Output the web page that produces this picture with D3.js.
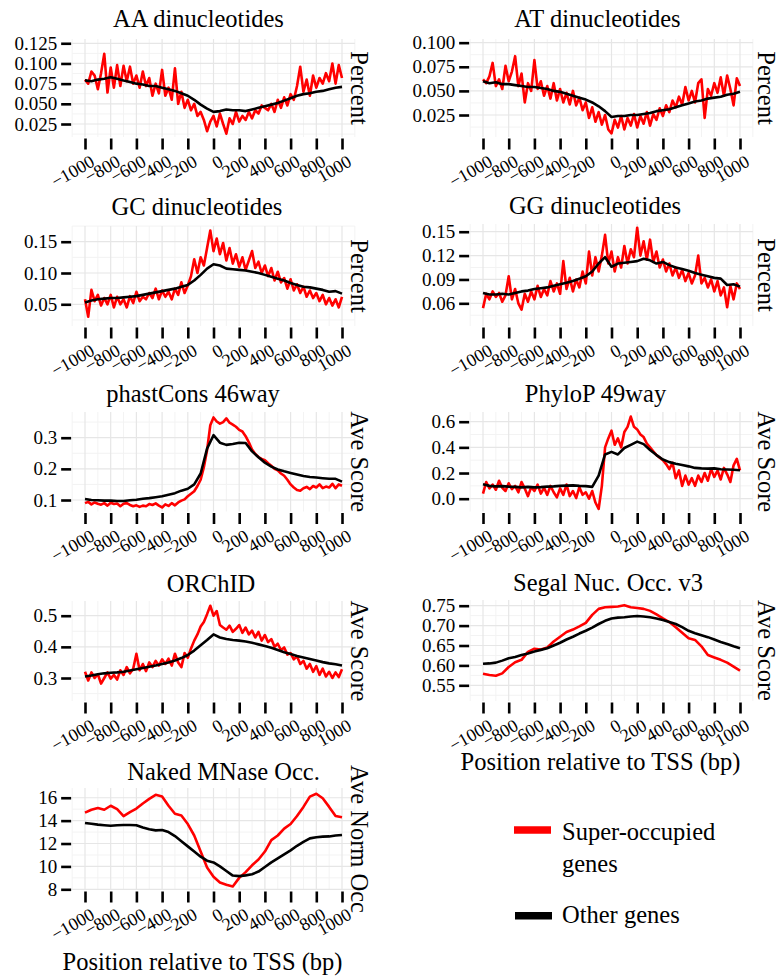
<!DOCTYPE html>
<html>
<head>
<meta charset="utf-8">
<script src="https://cdn.jsdelivr.net/npm/d3@7"></script>
<style>
  body { margin: 0; background: #fff; }
  svg text { font-family: "Liberation Serif", "Times New Roman", Times, "DejaVu Serif", serif; fill: #000; }
</style>
</head>
<body>
<div id="chart"></div>
<script>
// ---- data ----
const panelTitles = ["AA dinucleotides", "AT dinucleotides", "GC dinucleotides", "GG dinucleotides",
  "phastCons 46way", "PhyloP 49way", "ORChID", "Segal Nuc. Occ. v3", "Naked MNase Occ."];
const stripLabels = ["Percent", "Percent", "Percent", "Percent",
  "Ave Score", "Ave Score", "Ave Score", "Ave Score", "Ave Norm Occ"];
const xTicks = [-1000, -800, -600, -400, -200, 0, 200, 400, 600, 800, 1000];
const yTicks = [
  [0.025, 0.05, 0.075, 0.1, 0.125],
  [0.025, 0.05, 0.075, 0.1],
  [0.05, 0.1, 0.15],
  [0.06, 0.09, 0.12, 0.15],
  [0.1, 0.2, 0.3],
  [0.0, 0.2, 0.4, 0.6],
  [0.3, 0.4, 0.5],
  [0.55, 0.6, 0.65, 0.7, 0.75],
  [8, 10, 12, 14, 16]
];
const yFormats = [".3f", ".3f", ".2f", ".2f", ".1f", ".1f", ".1f", ".2f", "d"];
const yDomains = [
  [0.0089, 0.1303], [0.0022, 0.1038], [0.0153, 0.1751], [0.0315, 0.1597],
  [0.0631, 0.3825], [-0.0998, 0.6756], [0.2262, 0.5472], [0.5106, 0.7643], [7.94, 16.85]
];
const seriesNames = ["Super-occupied genes", "Other genes"];

// red series: 25 bp steps, black series: 50 bp steps (unless noted)
const aaSuper = [0.080, 0.075, 0.090, 0.085, 0.068, 0.088, 0.112, 0.064, 0.095, 0.070, 0.098, 0.072, 0.097, 0.078, 0.096, 0.075,
  0.085, 0.070, 0.090, 0.072, 0.082, 0.060, 0.075, 0.063, 0.092, 0.060, 0.070, 0.055, 0.094, 0.050, 0.065, 0.045,
  0.055, 0.042, 0.050, 0.035, 0.040, 0.030, 0.016, 0.028, 0.035, 0.022, 0.038, 0.025, 0.013, 0.032, 0.025, 0.040,
  0.028, 0.035, 0.030, 0.040, 0.032, 0.042, 0.038, 0.048, 0.045, 0.042, 0.050, 0.040, 0.055, 0.045, 0.058, 0.048,
  0.062, 0.055, 0.072, 0.096, 0.065, 0.080, 0.060, 0.085, 0.070, 0.082, 0.075, 0.088, 0.078, 0.100, 0.075, 0.098, 0.082];
const aaOther = [0.079, 0.078, 0.080, 0.081, 0.083, 0.081, 0.079, 0.077, 0.075, 0.074, 0.072, 0.072, 0.070, 0.068, 0.066, 0.063,
  0.060, 0.055, 0.049, 0.044, 0.040, 0.041, 0.043, 0.042, 0.042, 0.041, 0.043, 0.045, 0.047, 0.049, 0.051, 0.054,
  0.057, 0.060, 0.062, 0.063, 0.065, 0.066, 0.068, 0.070, 0.071];

const atSuper = [0.062, 0.058, 0.065, 0.079, 0.055, 0.062, 0.052, 0.076, 0.060, 0.070, 0.086, 0.055, 0.068, 0.038, 0.058, 0.050,
  0.082, 0.052, 0.060, 0.045, 0.055, 0.042, 0.058, 0.040, 0.052, 0.038, 0.048, 0.036, 0.050, 0.035, 0.043, 0.030,
  0.038, 0.022, 0.033, 0.018, 0.028, 0.015, 0.025, 0.010, 0.006, 0.020, 0.012, 0.024, 0.010, 0.022, 0.014, 0.026,
  0.012, 0.024, 0.016, 0.028, 0.014, 0.026, 0.020, 0.032, 0.024, 0.035, 0.028, 0.040, 0.033, 0.044, 0.036, 0.054,
  0.040, 0.050, 0.038, 0.058, 0.062, 0.022, 0.052, 0.045, 0.058, 0.048, 0.064, 0.045, 0.066, 0.052, 0.035, 0.063, 0.055];
const atOther = [0.060, 0.058, 0.059, 0.057, 0.057, 0.056, 0.055, 0.054, 0.054, 0.053, 0.052, 0.050, 0.049, 0.047, 0.045, 0.043,
  0.041, 0.038, 0.034, 0.029, 0.023, 0.024, 0.024, 0.025, 0.025, 0.026, 0.027, 0.029, 0.030, 0.031, 0.033, 0.035,
  0.037, 0.039, 0.040, 0.042, 0.043, 0.044, 0.046, 0.047, 0.049];

const gcSuper = [0.058, 0.030, 0.073, 0.055, 0.065, 0.048, 0.060, 0.050, 0.065, 0.045, 0.062, 0.050, 0.058, 0.045, 0.063, 0.052,
  0.070, 0.055, 0.062, 0.058, 0.068, 0.060, 0.075, 0.058, 0.072, 0.062, 0.070, 0.058, 0.075, 0.065, 0.085, 0.068,
  0.080, 0.095, 0.122, 0.100, 0.125, 0.112, 0.140, 0.168, 0.135, 0.155, 0.130, 0.148, 0.120, 0.140, 0.115, 0.130,
  0.110, 0.125, 0.105, 0.120, 0.135, 0.108, 0.118, 0.100, 0.112, 0.095, 0.108, 0.088, 0.102, 0.085, 0.092, 0.075,
  0.090, 0.072, 0.082, 0.068, 0.078, 0.062, 0.072, 0.060, 0.068, 0.055, 0.065, 0.050, 0.060, 0.048, 0.058, 0.045, 0.062];
const gcOther = [0.053, 0.056, 0.058, 0.059, 0.060, 0.060, 0.061, 0.062, 0.063, 0.065, 0.067, 0.069, 0.071, 0.073, 0.075, 0.078,
  0.081, 0.088, 0.097, 0.107, 0.114, 0.112, 0.107, 0.106, 0.105, 0.104, 0.102, 0.100, 0.097, 0.094, 0.091, 0.088,
  0.084, 0.081, 0.078, 0.077, 0.075, 0.073, 0.070, 0.071, 0.067];

const ggSuper = [0.054, 0.072, 0.065, 0.075, 0.068, 0.073, 0.062, 0.070, 0.094, 0.065, 0.078, 0.060, 0.052, 0.072, 0.062, 0.075,
  0.065, 0.082, 0.068, 0.078, 0.070, 0.088, 0.075, 0.085, 0.072, 0.113, 0.078, 0.092, 0.075, 0.090, 0.080, 0.100,
  0.085, 0.125, 0.095, 0.118, 0.100, 0.120, 0.146, 0.110, 0.125, 0.100, 0.118, 0.105, 0.132, 0.110, 0.128, 0.118,
  0.155, 0.120, 0.138, 0.115, 0.140, 0.112, 0.125, 0.105, 0.115, 0.100, 0.110, 0.095, 0.105, 0.092, 0.102, 0.088,
  0.098, 0.085, 0.095, 0.120, 0.085, 0.092, 0.080, 0.090, 0.075, 0.088, 0.070, 0.080, 0.055, 0.082, 0.065, 0.085, 0.078];
const ggOther = [0.073, 0.071, 0.071, 0.072, 0.071, 0.073, 0.075, 0.076, 0.078, 0.079, 0.080, 0.082, 0.084, 0.086, 0.088, 0.091,
  0.094, 0.100, 0.110, 0.118, 0.106, 0.110, 0.111, 0.112, 0.113, 0.116, 0.114, 0.110, 0.112, 0.108, 0.105, 0.103,
  0.101, 0.098, 0.096, 0.094, 0.092, 0.091, 0.083, 0.084, 0.081];

const phastSuper = [0.090, 0.094, 0.086, 0.092, 0.088, 0.085, 0.090, 0.082, 0.091, 0.087, 0.089, 0.080, 0.088, 0.090, 0.084, 0.080,
  0.083, 0.078, 0.082, 0.080, 0.087, 0.084, 0.089, 0.082, 0.076, 0.086, 0.081, 0.090, 0.083, 0.092, 0.098, 0.102,
  0.112, 0.120, 0.128, 0.145, 0.165, 0.205, 0.260, 0.340, 0.365, 0.352, 0.345, 0.350, 0.362, 0.348, 0.342, 0.335,
  0.325, 0.320, 0.305, 0.285, 0.262, 0.248, 0.238, 0.232, 0.228, 0.218, 0.210, 0.200, 0.195, 0.185, 0.178, 0.165,
  0.150, 0.140, 0.132, 0.130, 0.138, 0.142, 0.135, 0.145, 0.140, 0.150, 0.138, 0.143, 0.140, 0.152, 0.138, 0.150, 0.146];
const phastOther = [0.103, 0.100, 0.099, 0.098, 0.098, 0.097, 0.097, 0.099, 0.101, 0.104, 0.106, 0.109, 0.112, 0.117, 0.122, 0.130,
  0.136, 0.150, 0.185, 0.265, 0.308, 0.284, 0.277, 0.280, 0.284, 0.283, 0.256, 0.237, 0.220, 0.207, 0.198, 0.192,
  0.187, 0.182, 0.177, 0.174, 0.172, 0.170, 0.168, 0.168, 0.159];

const phyloSuper = [0.040, 0.130, 0.080, 0.110, 0.070, 0.140, 0.085, 0.060, 0.120, 0.075, 0.100, 0.050, 0.130, 0.080, 0.020, 0.090,
  0.060, 0.110, 0.040, 0.085, 0.030, 0.100, 0.050, 0.010, 0.080, 0.030, 0.110, 0.020, 0.060, 0.005, 0.090, 0.030,
  0.050, 0.000, 0.060, -0.030, -0.080, 0.100, 0.400, 0.470, 0.530, 0.420, 0.470, 0.400, 0.520, 0.560, 0.640, 0.560,
  0.540, 0.500, 0.480, 0.430, 0.400, 0.370, 0.340, 0.320, 0.300, 0.270, 0.230, 0.280, 0.160, 0.220, 0.100, 0.180,
  0.110, 0.160, 0.100, 0.180, 0.130, 0.200, 0.140, 0.230, 0.170, 0.220, 0.150, 0.240, 0.190, 0.130, 0.260, 0.310, 0.220];
const phyloOther = [0.112, 0.100, 0.096, 0.098, 0.094, 0.092, 0.088, 0.092, 0.088, 0.090, 0.094, 0.096, 0.100, 0.102, 0.104, 0.100,
  0.098, 0.092, 0.180, 0.345, 0.365, 0.345, 0.395, 0.420, 0.445, 0.425, 0.380, 0.340, 0.305, 0.285, 0.272, 0.262,
  0.252, 0.240, 0.236, 0.234, 0.236, 0.230, 0.228, 0.226, 0.222];

const orchidSuper = [0.320, 0.292, 0.318, 0.300, 0.312, 0.282, 0.300, 0.318, 0.298, 0.310, 0.295, 0.325, 0.310, 0.335, 0.315, 0.330,
  0.378, 0.325, 0.345, 0.322, 0.350, 0.335, 0.355, 0.340, 0.360, 0.345, 0.362, 0.340, 0.378, 0.350, 0.335, 0.380,
  0.365, 0.395, 0.420, 0.440, 0.465, 0.480, 0.505, 0.532, 0.500, 0.515, 0.470, 0.462, 0.455, 0.468, 0.448, 0.458,
  0.470, 0.445, 0.462, 0.440, 0.452, 0.430, 0.448, 0.420, 0.438, 0.415, 0.425, 0.400, 0.410, 0.390, 0.398, 0.375,
  0.380, 0.360, 0.370, 0.345, 0.355, 0.330, 0.345, 0.320, 0.338, 0.310, 0.330, 0.305, 0.320, 0.300, 0.318, 0.303, 0.328];
const orchidOther = [0.305, 0.308, 0.312, 0.315, 0.317, 0.318, 0.320, 0.324, 0.328, 0.332, 0.336, 0.340, 0.345, 0.350, 0.356, 0.364,
  0.374, 0.388, 0.405, 0.422, 0.440, 0.430, 0.425, 0.422, 0.420, 0.417, 0.413, 0.408, 0.403, 0.397, 0.390, 0.383,
  0.377, 0.371, 0.366, 0.361, 0.356, 0.351, 0.347, 0.344, 0.340];

const segalSuper = [0.579, 0.576, 0.574, 0.580, 0.596, 0.608, 0.614, 0.634, 0.642, 0.640, 0.645, 0.660, 0.672, 0.684, 0.690, 0.698,
  0.707, 0.727, 0.742, 0.746, 0.747, 0.748, 0.751, 0.746, 0.744, 0.742, 0.737, 0.728, 0.718, 0.709, 0.696, 0.682,
  0.668, 0.664, 0.648, 0.626, 0.620, 0.614, 0.607, 0.597, 0.587];
const segalOther = [0.604, 0.605, 0.607, 0.612, 0.618, 0.621, 0.626, 0.630, 0.635, 0.639, 0.643, 0.650, 0.657, 0.665, 0.672, 0.680,
  0.687, 0.695, 0.704, 0.712, 0.718, 0.720, 0.721, 0.723, 0.724, 0.723, 0.721, 0.718, 0.714, 0.709, 0.704, 0.696,
  0.687, 0.681, 0.676, 0.671, 0.665, 0.659, 0.654, 0.648, 0.643];

const mnaseSuper = [14.7, 14.95, 15.1, 14.95, 15.3, 15.0, 14.4, 14.75, 15.05, 15.5, 15.9, 16.25, 16.1, 15.3, 14.6, 14.45,
  13.7, 12.7, 11.3, 9.9, 9.1, 8.6, 8.4, 8.25, 9.0, 9.5, 10.1, 10.6, 11.3, 12.3, 12.7, 13.3,
  13.7, 14.4, 15.2, 16.1, 16.35, 15.95, 15.2, 14.4, 14.3];
const mnaseOther = [13.8, 13.72, 13.65, 13.6, 13.55, 13.6, 13.62, 13.62, 13.6, 13.4, 13.25, 13.15, 13.18, 13.0, 12.65, 12.2,
  11.75, 11.3, 10.85, 10.5, 10.35, 10.0, 9.6, 9.2, 9.15, 9.22, 9.32, 9.55, 9.95, 10.35, 10.7, 11.05,
  11.4, 11.8, 12.15, 12.45, 12.55, 12.6, 12.62, 12.7, 12.75];

const superSeries = [aaSuper, atSuper, gcSuper, ggSuper, phastSuper, phyloSuper, orchidSuper, segalSuper, mnaseSuper];
const otherSeries = [aaOther, atOther, gcOther, ggOther, phastOther, phyloOther, orchidOther, segalOther, mnaseOther];

// ---- layout ----
const W = 779, H = 978;
const serif = "'Liberation Serif', 'Times New Roman', Times, 'DejaVu Serif', serif";
const colX = [[72.15, 354.85], [470.15, 752.85]];
const panelRows = [[39, 137], [39, 137], [226, 326], [224, 326], [412, 511.5], [412, 511.5], [601, 701], [600, 701], [788, 890]];
const titlePos = [[198.5, 26.7], [597.5, 26.7], [197, 215], [595, 214.3], [193, 402], [595.5, 401.7], [211, 591.7], [608, 590.7], [223.5, 780]];
const stripX = [351, 758];
const red = "#ff0000";
const lineW = 2.6;
const bigFont = 24.5;
const tickFont = 19;
const xTickFont = 18;

const svg = d3.select("#chart").append("svg").attr("width", W).attr("height", H)
  .attr("font-family", serif);
svg.append("rect").attr("width", W).attr("height", H).attr("fill", "#fff");

function minorsFor(ticks, domain) {
  const step = ticks.length > 1 ? ticks[1] - ticks[0] : 1;
  const out = [];
  for (let v = ticks[0] - step / 2; v <= ticks[ticks.length - 1] + step / 2 + 1e-9; v += step) {
    if (v >= Math.min(...domain) && v <= Math.max(...domain)) out.push(v);
  }
  return out;
}

panelTitles.forEach((title, i) => {
  const col = i % 2;
  const [x0, x1] = colX[col];
  const [top, bottom] = panelRows[i];
  const x = d3.scaleLinear().domain([-1100, 1100]).range([x0, x1]);
  const y = d3.scaleLinear().domain(yDomains[i]).range([bottom, top]);
  const g = svg.append("g");

  // grid
  const xMinor = d3.range(-1100, 1101, 200);
  const yMinor = minorsFor(yTicks[i], yDomains[i]);
  g.selectAll(".xmin").data(xMinor).enter().append("line")
    .attr("x1", d => x(d)).attr("x2", d => x(d)).attr("y1", top).attr("y2", bottom)
    .attr("stroke", "#f3f3f3").attr("stroke-width", 1);
  g.selectAll(".ymin").data(yMinor).enter().append("line")
    .attr("x1", x0).attr("x2", x1).attr("y1", d => y(d)).attr("y2", d => y(d))
    .attr("stroke", "#f3f3f3").attr("stroke-width", 1);
  g.selectAll(".xmaj").data(xTicks).enter().append("line")
    .attr("x1", d => x(d)).attr("x2", d => x(d)).attr("y1", top).attr("y2", bottom)
    .attr("stroke", "#e6e6e6").attr("stroke-width", 1.2);
  g.selectAll(".ymaj").data(yTicks[i]).enter().append("line")
    .attr("x1", x0).attr("x2", x1).attr("y1", d => y(d)).attr("y2", d => y(d))
    .attr("stroke", "#e6e6e6").attr("stroke-width", 1.2);

  // lines
  const clipId = "clip" + i;
  svg.append("clipPath").attr("id", clipId).append("rect")
    .attr("x", x0).attr("y", top).attr("width", x1 - x0).attr("height", bottom - top);
  [[superSeries[i], red], [otherSeries[i], "#000"]].forEach(([vals, colour]) => {
    const n = vals.length;
    const pos = d3.range(n).map(j => -1000 + j * 2000 / (n - 1));
    const line = d3.line().x((d, j) => x(pos[j])).y(d => y(d));
    g.append("path").datum(vals).attr("d", line)
      .attr("clip-path", `url(#${clipId})`)
      .attr("fill", "none").attr("stroke", colour).attr("stroke-width", lineW)
      .attr("stroke-linejoin", "round");
  });

  // y axis
  const yAxis = g.append("g").attr("transform", `translate(${x0 - 1},0)`)
    .call(d3.axisLeft(y).tickValues(yTicks[i]).tickSize(10).tickPadding(4).tickFormat(d3.format(yFormats[i])));
  yAxis.attr("font-family", serif);
  yAxis.select(".domain").remove();
  yAxis.selectAll("line").attr("stroke", "#000").attr("stroke-width", 2.6);
  yAxis.selectAll("text").attr("font-size", tickFont).attr("font-family", serif);

  // x axis
  const xAxis = g.append("g").attr("transform", `translate(0,${bottom + 1.5})`)
    .call(d3.axisBottom(x).tickValues(xTicks).tickSize(11).tickFormat(d3.format("d")));
  xAxis.attr("font-family", serif);
  xAxis.select(".domain").remove();
  xAxis.selectAll("line").attr("stroke", "#000").attr("stroke-width", 2.6);
  xAxis.selectAll("text")
    .attr("font-size", xTickFont).attr("font-family", serif)
    .attr("text-anchor", "end").attr("x", 0).attr("y", 0).attr("dy", "0.7em")
    .attr("transform", "translate(4,15.5) rotate(-30)");

  // title
  g.append("text").attr("x", titlePos[i][0]).attr("y", titlePos[i][1])
    .attr("text-anchor", "middle").attr("font-size", bigFont).attr("font-family", serif).text(title);

  // right strip label
  g.append("text")
    .attr("transform", `translate(${stripX[col]},${(top + bottom) / 2}) rotate(90)`)
    .attr("text-anchor", "middle").attr("font-size", bigFont).attr("font-family", serif).text(stripLabels[i]);
});

// axis titles
svg.append("text").attr("x", 202.5).attr("y", 970).attr("text-anchor", "middle")
  .attr("font-size", bigFont).attr("font-family", serif).text("Position relative to TSS (bp)");
svg.append("text").attr("x", 600.5).attr("y", 770).attr("text-anchor", "middle")
  .attr("font-size", bigFont).attr("font-family", serif).text("Position relative to TSS (bp)");

// legend
const legend = svg.append("g").attr("font-family", serif).attr("font-size", bigFont);
legend.append("line").attr("x1", 514).attr("x2", 551).attr("y1", 830).attr("y2", 830)
  .attr("stroke", red).attr("stroke-width", 7.5);
legend.append("text").attr("x", 562).attr("y", 840).text("Super-occupied");
legend.append("text").attr("x", 562).attr("y", 871.7).text("genes");
legend.append("line").attr("x1", 515).attr("x2", 552).attr("y1", 915.7).attr("y2", 915.7)
  .attr("stroke", "#000").attr("stroke-width", 7.5);
legend.append("text").attr("x", 562).attr("y", 923.3).text(seriesNames[1]);
</script>
</body>
</html>
